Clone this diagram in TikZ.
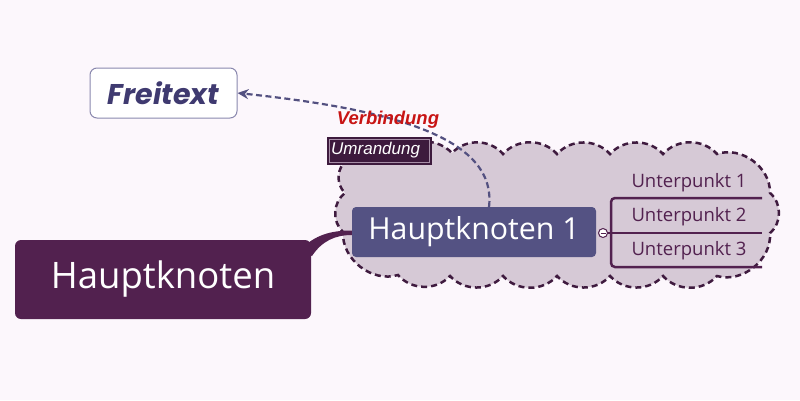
\documentclass[tikz,border=0pt]{standalone}
\usepackage{fontspec}
\setmainfont{Open Sans}
\newfontfamily\arialf{Liberation Sans}
\newfontfamily\popf{Poppins}
\usetikzlibrary{arrows.meta}
\definecolor{bgc}{HTML}{FCF7FC}
\definecolor{hkc}{HTML}{52214F}
\definecolor{hkonec}{HTML}{545283}
\definecolor{cloudf}{HTML}{D6C9D6}
\definecolor{cloudl}{HTML}{3F1B3F}
\definecolor{connc}{HTML}{535080}
\definecolor{redc}{HTML}{C81414}
\definecolor{umrc}{HTML}{3D1A3D}
\definecolor{umrl}{HTML}{A88FA8}
\definecolor{freil}{HTML}{8A88AE}
\definecolor{freit}{HTML}{3F3A70}
\tikzset{
  mainbox/.style={fill=hkc, rounded corners=6pt, text=white, inner sep=0pt,
    font=\fontsize{36.5}{40}\selectfont},
  subbox/.style={fill=hkonec, rounded corners=4pt, text=white, inner sep=0pt,
    font=\fontsize{30.3}{33}\selectfont},
  freebox/.style={draw=freil, line width=1pt, fill=white, rounded corners=7pt,
    text=freit, inner sep=0pt, font=\popf\bfseries\itshape\fontsize{28.5}{30}\selectfont},
  cloudshape/.style={draw=cloudl, fill=cloudf, line width=2.5pt,
    dash pattern=on 6pt off 4pt},
  leaflabel/.style={text=hkc, inner sep=0pt, font=\fontsize{18.5}{21}\selectfont},
  branch/.style={draw=hkc, line width=2.5pt},
  linkline/.style={draw=connc, line width=2.2pt, dash pattern=on 6pt off 3.5pt,
    -{Stealth[length=11pt,width=10pt]}},
  umrbox/.style={fill=umrc, text=white, inner sep=0pt,
    font=\arialf\itshape\fontsize{17}{20}\selectfont},
  linklabel/.style={text=redc, inner sep=0pt, font=\arialf\bfseries\itshape\fontsize{18.5}{21}\selectfont}
}
\begin{document}
\begin{tikzpicture}[x=1pt,y=-1pt]
\fill[bgc] (0,0) rectangle (800,400);
\useasboundingbox (0,0) rectangle (800,400);
% cloud boundary
\path[cloudshape] (347,160) to[bend left=45] (400,152) to[bend left=45] (452,153)
  to[bend left=48] (503,154) to[bend left=48] (557,154) to[bend left=48] (610,154)
  to[bend left=48] (663,154) to[bend left=48] (717,154) to[bend left=55] (770,193)
  to[bend left=50] (770,233) to[bend left=55] (717,276) to[bend left=48] (663,276)
  to[bend left=48] (610,276) to[bend left=48] (557,276) to[bend left=48] (503,276)
  to[bend left=48] (450,276) to[bend left=48] (398,275) to[bend left=55] (343,232)
  to[bend left=50] (345,193) to[bend left=50] (347,160) -- cycle;
% tapered connector main -> sub
\fill[hkc] (300,250) .. controls (315,235) and (330,230.5) .. (352,230.5)
  -- (352,235) .. controls (335,235) and (322,241) .. (312,256) -- cycle;
\node[mainbox, minimum width=296pt, minimum height=79pt] (hk) at (163,279.5) {Hauptknoten};
\node[subbox, minimum width=244pt, minimum height=50pt] (hk1) at (474,232) {Hauptknoten 1};
% branch bracket
\coordinate (jn) at (603,233);
\coordinate (u1) at (762,198);
\coordinate (u2) at (762,233);
\coordinate (u3) at (762,267);
\draw[branch, rounded corners=4pt] (u1) -- (611,198) -- (611,267) -- (u3);
\draw[branch] (jn) -- (u2);
\node[circle, draw=hkc, fill=white, line width=1pt, minimum size=9pt, inner sep=0pt] (col) at (jn) {};
\draw[hkc, line width=0.7pt] (600.5,233) -- (605.5,233);
\node[leaflabel] (l1) at (689,183) {Unterpunkt 1};
\node[leaflabel] (l2) at (689,217) {Unterpunkt 2};
\node[leaflabel] (l3) at (689,251) {Unterpunkt 3};
% free text
\node[freebox, minimum width=147pt, minimum height=50pt] (free) at (163.5,93) {Freitext};
% link
\coordinate (ls) at (489,207);
\draw[linkline] (ls) .. controls (497,140) and (400,110) .. (free.east);
\node[linklabel] (vb) at (388,120) {Verbindung};
% Umrandung label
\node[umrbox, minimum width=105pt, minimum height=28pt] (umr) at (379.5,151) {};
\draw[umrl, line width=0.8pt] (329.5,139.5) rectangle (429.5,162.5);
\node[anchor=west, text=white, inner sep=0pt, font=\arialf\itshape\fontsize{17}{20}\selectfont] (umrt) at (331,150) {Umrandung};
\end{tikzpicture}
\end{document}
